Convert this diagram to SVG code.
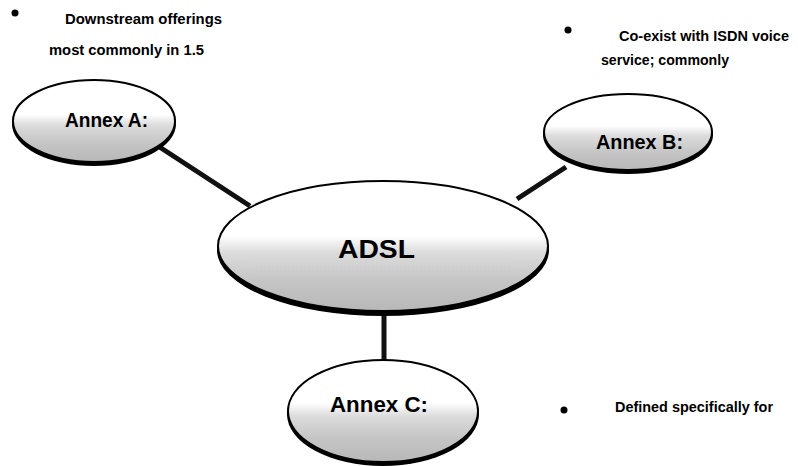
<svg xmlns="http://www.w3.org/2000/svg" width="798" height="466" viewBox="0 0 798 466">
  <defs>
    <linearGradient id="shade" x1="0" y1="0" x2="0" y2="1">
      <stop offset="0" stop-color="#ffffff"/>
      <stop offset="0.42" stop-color="#ffffff"/>
      <stop offset="0.55" stop-color="#dcdcdc"/>
      <stop offset="0.78" stop-color="#c4c4c4"/>
      <stop offset="1" stop-color="#b8b8b8"/>
    </linearGradient>
  </defs>
  <style>
    .shadow { fill: #000; }
    .body { fill: url(#shade); stroke: #000; stroke-width: 2; }
    .link { stroke: #111; stroke-width: 5; stroke-linecap: butt; fill: none; }
    .label { font-family: "Liberation Sans", Arial, sans-serif; font-weight: bold; fill: #000; }
    .note { font-family: "Liberation Sans", Arial, sans-serif; font-weight: bold; font-size: 14.5px; fill: #000; }
  </style>

  <!-- connectors between the core and the annex nodes -->
  <g id="connectors">
    <line class="link" x1="158" y1="146" x2="250" y2="206"/>
    <line class="link" x1="517" y1="199" x2="566" y2="167"/>
    <line class="link" x1="384" y1="310" x2="384" y2="362" stroke-width="6"/>
  </g>

  <g id="annex-a">
    <ellipse class="shadow" cx="94" cy="124" rx="82" ry="42"/>
    <ellipse class="body" cx="94" cy="121" rx="81" ry="41"/>
    <text class="label" x="65" y="127" font-size="20" textLength="83" lengthAdjust="spacingAndGlyphs">Annex A:</text>
  </g>

  <g id="annex-b">
    <ellipse class="shadow" cx="628" cy="135" rx="85" ry="39"/>
    <ellipse class="body" cx="628" cy="132" rx="84" ry="38"/>
    <text class="label" x="596" y="149" font-size="20" textLength="87" lengthAdjust="spacingAndGlyphs">Annex B:</text>
  </g>

  <g id="adsl">
    <ellipse class="shadow" cx="383" cy="250" rx="166" ry="66"/>
    <ellipse class="body" cx="383" cy="246" rx="165" ry="65"/>
    <text class="label" x="338" y="258" font-size="26" textLength="77" lengthAdjust="spacingAndGlyphs">ADSL</text>
  </g>

  <g id="annex-c">
    <ellipse class="shadow" cx="383" cy="414" rx="96" ry="52"/>
    <ellipse class="body" cx="383" cy="411" rx="95" ry="51"/>
    <text class="label" x="330" y="412" font-size="22" textLength="98" lengthAdjust="spacingAndGlyphs">Annex C:</text>
  </g>

  <!-- bullet notes -->
  <g id="note-a">
    <circle cx="15" cy="13" r="3.5"/>
    <text class="note" x="65" y="24" textLength="157" lengthAdjust="spacingAndGlyphs">Downstream offerings</text>
    <text class="note" x="49" y="55" textLength="155" lengthAdjust="spacingAndGlyphs">most commonly in 1.5</text>
  </g>
  <g id="note-b">
    <circle cx="568" cy="30" r="3.5"/>
    <text class="note" x="619" y="41" textLength="170" lengthAdjust="spacingAndGlyphs">Co-exist with ISDN voice</text>
    <text class="note" x="601" y="65" textLength="128" lengthAdjust="spacingAndGlyphs">service; commonly</text>
  </g>
  <g id="note-c">
    <circle cx="564" cy="410" r="3.5"/>
    <text class="note" x="615" y="412" textLength="158" lengthAdjust="spacingAndGlyphs">Defined specifically for</text>
  </g>
</svg>
